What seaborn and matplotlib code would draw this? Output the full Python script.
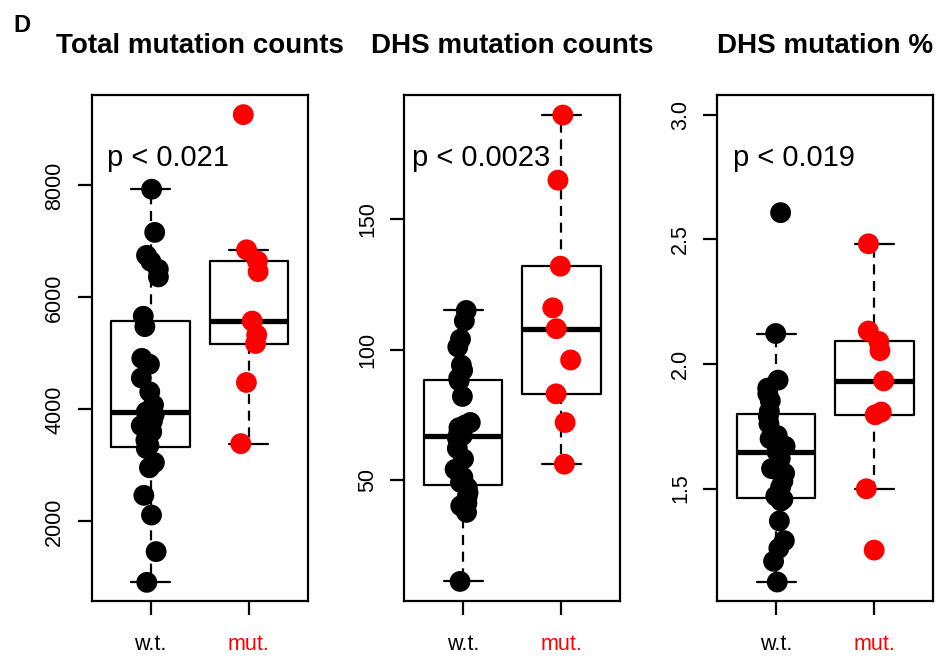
import numpy as np
import pandas as pd
import seaborn as sns
import matplotlib.pyplot as plt

# values
groups = ["w.t.", "mut."]
colors = {"w.t.": "black", "mut.": "red"}

total_wt = [7932, 7161, 6750, 6644, 6502, 6366, 5663, 5478, 4911, 4806, 4560, 4313, 4079,
            3955, 3900, 3789, 3709, 3600, 3450, 3357, 3300, 3049, 2957, 2464, 2112, 1459, 910]
total_mut = [9264, 6850, 6650, 6460, 5577, 5330, 5176, 4480, 3388]

dhs_wt = [115, 111, 104, 101, 94, 92, 89, 88, 82, 72, 71, 70, 68, 67, 66, 62, 58, 54,
          51, 49, 47, 45, 43, 41, 40, 37.5, 11]
dhs_mut = [190, 165, 132, 116, 108, 96, 83, 72, 56]

pct_wt = [2.607, 2.122, 1.935, 1.903, 1.88, 1.852, 1.81, 1.79, 1.76, 1.713, 1.70, 1.67,
          1.651, 1.648, 1.62, 1.58, 1.561, 1.53, 1.506, 1.47, 1.457, 1.45, 1.37, 1.291,
          1.26, 1.208, 1.125]
pct_mut = [2.482, 2.132, 2.090, 2.053, 1.932, 1.807, 1.796, 1.499, 1.253]

titles = ["Total mutation counts", "DHS mutation counts", "DHS mutation %"]
pvals = ["p < 0.021", "p < 0.0023", "p < 0.019"]
yticks = [[2000, 4000, 6000, 8000], [50, 100, 150], [1.5, 2.0, 2.5, 3.0]]
yticklabels = [["2000", "4000", "6000", "8000"], ["50", "100", "150"],
               ["1.5", "2.0", "2.5", "3.0"]]
ylims = [(582, 9615), (3.6, 197.7), (1.05, 3.079)]

panels = [(total_wt, total_mut), (dhs_wt, dhs_mut), (pct_wt, pct_mut)]

sns.set_style("ticks")
plt.rcParams['font.family'] = ['Liberation Sans', 'DejaVu Sans']
plt.rcParams['text.color'] = 'black'
plt.rcParams['xtick.color'] = 'black'
plt.rcParams['ytick.color'] = 'black'
plt.rcParams['axes.labelcolor'] = 'black'

np.random.seed(3)
fig = plt.figure(figsize=(9.39, 6.56), dpi=100)
lefts = [91.7 / 939, 404.3 / 939, 717.3 / 939]
w = 216 / 939
bottom = (656 - 600.7) / 656
h = 505.7 / 656
ptext_x = [0.071, 0.034, 0.074]

for i, (wt, mut) in enumerate(panels):
    ax = fig.add_axes([lefts[i], bottom, w, h])
    df = pd.DataFrame({"group": ["w.t."] * len(wt) + ["mut."] * len(mut),
                       "value": wt + mut})
    sns.boxplot(data=df, x="group", y="value", order=groups, fill=False, color="black",
                width=0.8, showfliers=False, linewidth=1.6,
                whiskerprops={"linestyle": (0, (4.5, 3))},
                medianprops={"linewidth": 3.8}, ax=ax)
    sns.stripplot(data=df, x="group", y="value", order=groups, hue="group",
                  palette=colors, size=15, jitter=0.1, linewidth=0, legend=False,
                  ax=ax, zorder=3)
    ax.set_xlim(-0.6, 1.6)
    ax.set_ylim(*ylims[i])
    ax.set_yticks(yticks[i])
    ax.set_yticklabels(yticklabels[i])
    ax.set_xlabel("")
    ax.set_ylabel("")
    for sp in ax.spines.values():
        sp.set_visible(True)
        sp.set_color("black")
        sp.set_linewidth(1.6)
    ax.tick_params(axis="both", length=10, width=1.6, color="black",
                   labelcolor="black", labelsize=15.5, direction="out")
    ax.tick_params(axis="x", pad=14)
    ax.tick_params(axis="y", pad=9, labelrotation=90)
    for lbl in ax.get_yticklabels():
        lbl.set_va("center")
    ax.get_xticklabels()[1].set_color("red")
    ax.set_title(titles[i], fontsize=20, fontweight="bold", pad=30, color="black")
    ax.text(ptext_x[i], 0.875, pvals[i], transform=ax.transAxes, fontsize=21,
            ha="left", va="center", color="black")

fig.text(13 / 939, 1 - 32 / 656, "D", fontsize=17, fontweight="bold", va="baseline",
         color="black")

fig.savefig("out.png", dpi=100)
